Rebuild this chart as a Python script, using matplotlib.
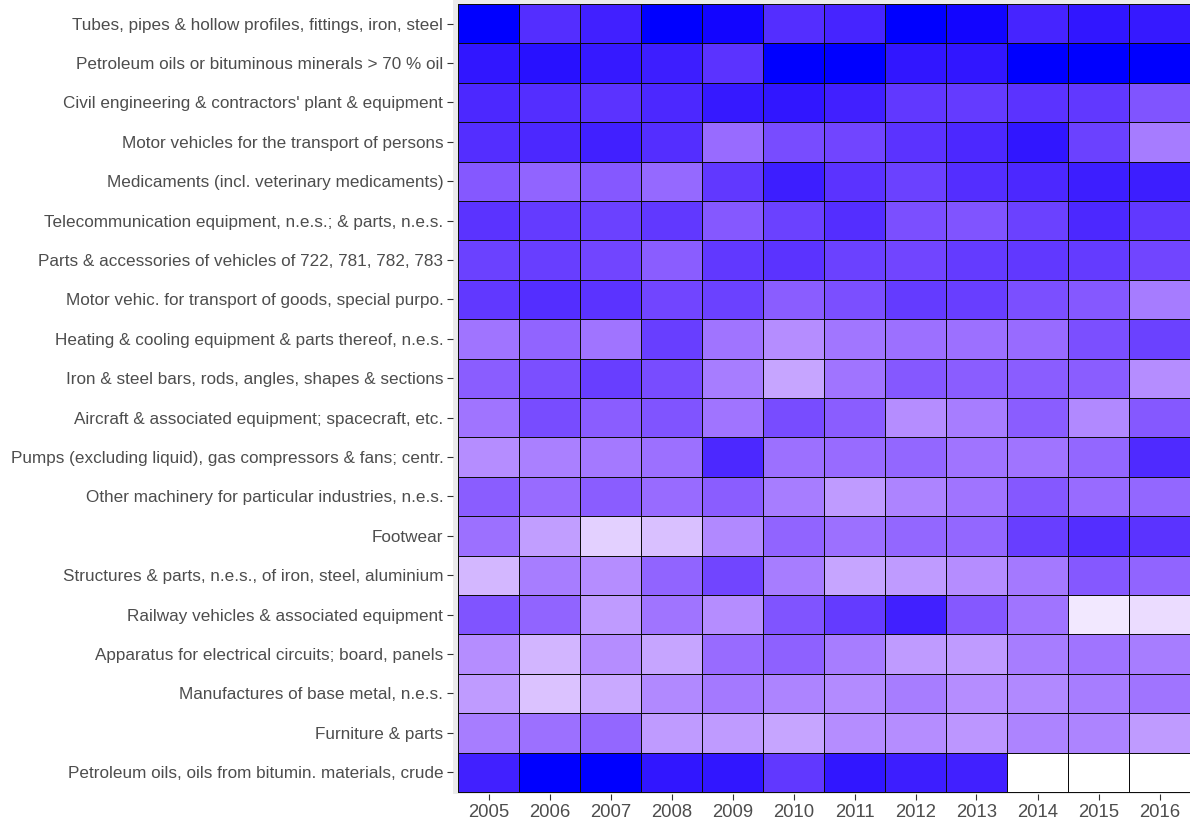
import numpy as np
import matplotlib
matplotlib.use("Agg")
import matplotlib.pyplot as plt
from matplotlib.colors import ListedColormap

years = ["2005", "2006", "2007", "2008", "2009", "2010",
         "2011", "2012", "2013", "2014", "2015", "2016"]

products = [
    "Tubes, pipes & hollow profiles, fittings, iron, steel",
    "Petroleum oils or bituminous minerals > 70 % oil",
    "Civil engineering & contractors' plant & equipment",
    "Motor vehicles for the transport of persons",
    "Medicaments (incl. veterinary medicaments)",
    "Telecommunication equipment, n.e.s.; & parts, n.e.s.",
    "Parts & accessories of vehicles of 722, 781, 782, 783",
    "Motor vehic. for transport of goods, special purpo.",
    "Heating & cooling equipment & parts thereof, n.e.s.",
    "Iron & steel bars, rods, angles, shapes & sections",
    "Aircraft & associated equipment; spacecraft, etc.",
    "Pumps (excluding liquid), gas compressors & fans; centr.",
    "Other machinery for particular industries, n.e.s.",
    "Footwear",
    "Structures & parts, n.e.s., of iron, steel, aluminium",
    "Railway vehicles & associated equipment",
    "Apparatus for electrical circuits; board, panels",
    "Manufactures of base metal, n.e.s.",
    "Furniture & parts",
    "Petroleum oils, oils from bitumin. materials, crude",
]

# relative export intensity per product (rows) and year (columns)
values = [
    [1.00, 0.89, 0.93, 1.00, 0.99, 0.89, 0.92, 1.00, 0.99, 0.92, 0.96, 0.95],
    [0.96, 0.97, 0.95, 0.94, 0.87, 1.00, 1.00, 0.96, 0.96, 1.00, 1.00, 1.00],
    [0.91, 0.89, 0.87, 0.91, 0.95, 0.96, 0.93, 0.85, 0.84, 0.87, 0.85, 0.74],
    [0.89, 0.91, 0.93, 0.89, 0.64, 0.77, 0.80, 0.87, 0.91, 0.96, 0.82, 0.57],
    [0.72, 0.67, 0.72, 0.65, 0.85, 0.94, 0.87, 0.82, 0.89, 0.91, 0.94, 0.94],
    [0.87, 0.84, 0.82, 0.85, 0.72, 0.82, 0.89, 0.76, 0.74, 0.82, 0.91, 0.85],
    [0.82, 0.83, 0.80, 0.70, 0.85, 0.87, 0.82, 0.80, 0.84, 0.85, 0.84, 0.80],
    [0.85, 0.89, 0.87, 0.80, 0.82, 0.70, 0.76, 0.84, 0.83, 0.76, 0.72, 0.57],
    [0.60, 0.67, 0.60, 0.83, 0.60, 0.49, 0.59, 0.62, 0.62, 0.64, 0.76, 0.82],
    [0.70, 0.76, 0.83, 0.77, 0.56, 0.39, 0.60, 0.72, 0.70, 0.70, 0.70, 0.49],
    [0.60, 0.77, 0.70, 0.74, 0.60, 0.77, 0.70, 0.49, 0.56, 0.70, 0.51, 0.72],
    [0.49, 0.55, 0.58, 0.62, 0.91, 0.62, 0.64, 0.66, 0.60, 0.60, 0.66, 0.90],
    [0.70, 0.64, 0.70, 0.64, 0.70, 0.56, 0.43, 0.53, 0.60, 0.72, 0.64, 0.66],
    [0.62, 0.42, 0.20, 0.27, 0.51, 0.67, 0.62, 0.66, 0.66, 0.83, 0.89, 0.87],
    [0.31, 0.56, 0.49, 0.67, 0.80, 0.56, 0.39, 0.43, 0.49, 0.58, 0.72, 0.67],
    [0.74, 0.67, 0.43, 0.60, 0.49, 0.74, 0.84, 0.93, 0.72, 0.60, 0.10, 0.15],
    [0.49, 0.32, 0.49, 0.39, 0.64, 0.68, 0.56, 0.43, 0.43, 0.56, 0.60, 0.56],
    [0.43, 0.26, 0.37, 0.51, 0.58, 0.53, 0.50, 0.56, 0.49, 0.51, 0.56, 0.60],
    [0.56, 0.62, 0.66, 0.43, 0.43, 0.39, 0.49, 0.49, 0.45, 0.53, 0.53, 0.43],
    [0.93, 1.00, 1.00, 0.96, 0.96, 0.85, 0.96, 0.94, 0.93, 0.00, 0.00, 0.00],
]


# white -> blue gradient interpolated in CIE Lab space
def _srgb_to_lab(rgb):
    c = np.asarray(rgb, float)
    lin = np.where(c <= 0.04045, c / 12.92, ((c + 0.055) / 1.055) ** 2.4)
    m = np.array([[0.4124, 0.3576, 0.1805],
                  [0.2126, 0.7152, 0.0722],
                  [0.0193, 0.1192, 0.9505]])
    xyz = m @ lin / np.array([0.95047, 1.0, 1.08883])
    f = np.where(xyz > 0.008856, np.cbrt(xyz), 7.787 * xyz + 16 / 116)
    return np.array([116 * f[1] - 16, 500 * (f[0] - f[1]), 200 * (f[1] - f[2])])


def _lab_to_srgb(lab):
    L, a, b = lab
    fy = (L + 16) / 116
    fx = fy + a / 500
    fz = fy - b / 200
    f = np.array([fx, fy, fz])
    xyz = np.where(f ** 3 > 0.008856, f ** 3, (f - 16 / 116) / 7.787)
    xyz = xyz * np.array([0.95047, 1.0, 1.08883])
    minv = np.array([[3.2406, -1.5372, -0.4986],
                     [-0.9689, 1.8758, 0.0415],
                     [0.0557, -0.2040, 1.0570]])
    lin = np.clip(minv @ xyz, 0, 1)
    c = np.where(lin <= 0.0031308, 12.92 * lin, 1.055 * lin ** (1 / 2.4) - 0.055)
    return np.clip(c, 0, 1)


lab_lo = _srgb_to_lab([1, 1, 1])
lab_hi = _srgb_to_lab([0, 0, 1])
cmap = ListedColormap([_lab_to_srgb(lab_lo + t * (lab_hi - lab_lo))
                       for t in np.linspace(0, 1, 256)])

W, H = 1190, 823
fig = plt.figure(figsize=(W / 100, H / 100), dpi=100)
fig.patch.set_facecolor("white")

# axes placed in pixel units
ax_left, ax_right, ax_top, ax_bottom = 453, 1195, -1, 794
ax = fig.add_axes([ax_left / W, 1 - ax_bottom / H,
                   (ax_right - ax_left) / W, (ax_bottom - ax_top) / H])
ax.set_facecolor("#EBEBEB")

data = np.array(values)
nrow, ncol = data.shape
xe = np.arange(ncol + 1) + 0.5
ye = np.arange(nrow + 1) + 0.5
ax.pcolormesh(xe, ye, data, cmap=cmap, vmin=data.min(), vmax=data.max(),
              edgecolors="#0d0d0d", linewidth=0.7)

# tile block spans x 458..1190 px and y 4..792 px
colw = (1190 - 458) / ncol
rowh = (792 - 4) / nrow
ax.set_xlim(0.5 - (458 - ax_left) / colw, ncol + 0.5 + (ax_right - 1190) / colw)
ax.set_ylim(nrow + 0.5 + (ax_bottom - 792) / rowh, 0.5 - (4 - ax_top) / rowh)

ax.set_xticks(np.arange(1, ncol + 1))
ax.set_xticklabels(years)
ax.set_yticks(np.arange(1, nrow + 1))
ax.set_yticklabels(products)
for s in ax.spines.values():
    s.set_visible(False)
ax.tick_params(axis="both", colors="#333333", length=4, width=0.8,
               labelcolor="#4D4D4D", pad=3)
ax.tick_params(axis="y", labelsize=12.35)
ax.tick_params(axis="x", labelsize=13.3)
for lab in ax.get_xticklabels() + ax.get_yticklabels():
    lab.set_family(["Liberation Sans", "DejaVu Sans"])

fig.savefig("out.png", dpi=100)
